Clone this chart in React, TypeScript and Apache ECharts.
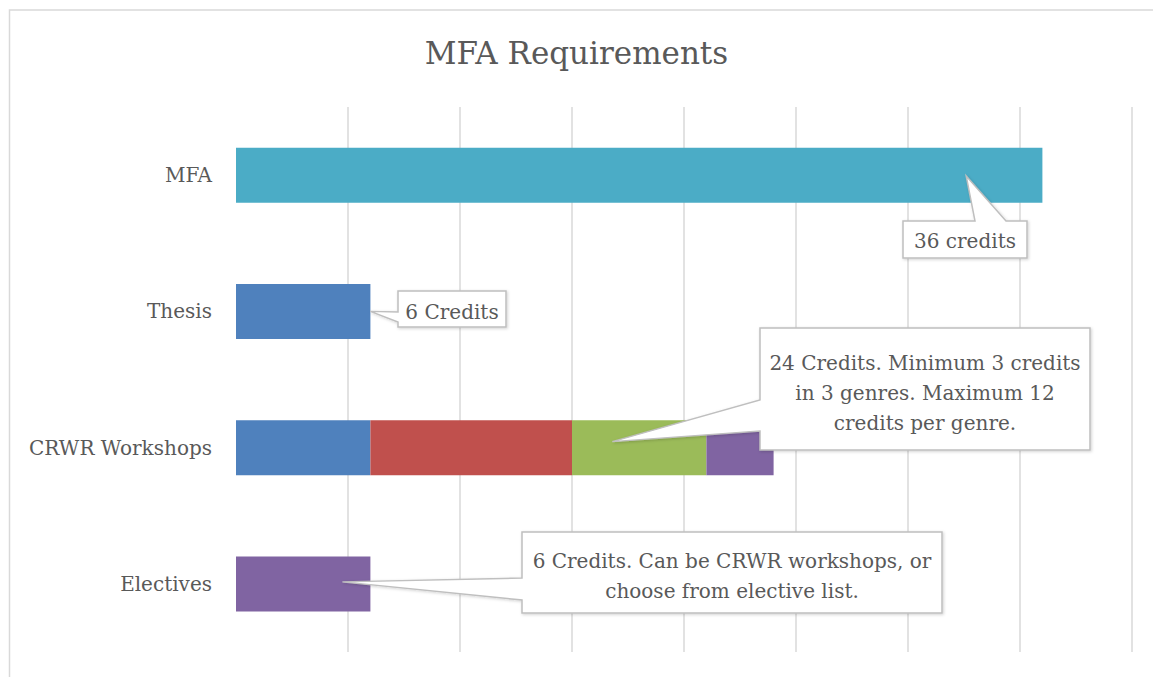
import React, { useEffect, useRef } from "react";
import * as echarts from "echarts";

const categories = ["MFA", "Thesis", "CRWR Workshops", "Electives"];
const mfaCredits = [36, 0, 0, 0];
const blueCredits = [0, 6, 6, 0];
const redCredits = [0, 0, 9, 0];
const greenCredits = [0, 0, 6, 0];
const purpleCredits = [0, 0, 3, 6];

const seriesColors = ["#4BACC6", "#4F81BD", "#C0504D", "#9BBB59", "#8064A2"];
const seriesValues = [mfaCredits, blueCredits, redCredits, greenCredits, purpleCredits];

const axisMin = 0;
const axisMax = 40;
const axisInterval = 5;

const FONT = "'DejaVu Serif', serif";
const TEXT_COLOR = "#595959";

type Callout = {
  lines: string[];
  box: [number, number, number, number];
  tipValue: number;
  tipCat: number;
  tipDy: number;
  side: "top" | "left";
  wedge: [number, number];
  textDy: number;
};

const callouts: Callout[] = [
  { lines: ["36 credits"], box: [903, 221, 124, 37], tipValue: 32.6, tipCat: 0, tipDy: 1, side: "top", wedge: [975, 1006], textDy: 1 },
  { lines: ["6 Credits"], box: [398, 291, 108, 36], tipValue: 6, tipCat: 1, tipDy: 0, side: "left", wedge: [312, 322], textDy: 3 },
  {
    lines: ["24 Credits. Minimum 3 credits", "in 3 genres. Maximum 12", "credits per genre."],
    box: [760, 328, 330, 122], tipValue: 16.8, tipCat: 2, tipDy: -6, side: "left", wedge: [400, 431], textDy: 4,
  },
  {
    lines: ["6 Credits. Can be CRWR workshops, or", "choose from elective list."],
    box: [522, 532, 420, 81], tipValue: 4.75, tipCat: 3, tipDy: -2, side: "left", wedge: [578, 600], textDy: 3,
  },
];

export default function App() {
  const ref = useRef<HTMLDivElement>(null);
  useEffect(() => {
    if (!ref.current) return;
    const chart = echarts.init(ref.current, undefined, { renderer: "svg" });
    chart.setOption({
      animation: false,
      backgroundColor: "#ffffff",
      title: {
        text: "MFA Requirements",
        left: "center",
        top: 32,
        textStyle: { fontFamily: FONT, fontSize: 31, fontWeight: "normal", color: TEXT_COLOR },
      },
      grid: { left: 236, right: 21, top: 107, bottom: 25, containLabel: false },
      xAxis: {
        type: "value",
        min: axisMin,
        max: axisMax,
        interval: axisInterval,
        axisLabel: { show: false },
        axisLine: { show: false },
        axisTick: { show: false },
        splitLine: { show: true, showMinLine: false, lineStyle: { color: "#d9d9d9", width: 1.5 } },
      },
      yAxis: {
        type: "category",
        data: categories,
        inverse: true,
        axisLine: { show: false },
        axisTick: { show: false },
        axisLabel: { margin: 24, fontFamily: FONT, fontSize: 20, color: TEXT_COLOR },
      },
      series: seriesValues.map((vals, i) => ({
        type: "bar",
        stack: "credits",
        barWidth: 55,
        data: vals.map((v) => (v === 0 ? "-" : v)),
        itemStyle: { color: seriesColors[i] },
      })),
    });

    const graphics: any[] = [
      {
        type: "rect",
        shape: { x: 9.5, y: 10, width: 1170, height: 720 },
        style: { fill: "none", stroke: "#d9d9d9", lineWidth: 1.5 },
        silent: true,
      },
    ];
    callouts.forEach((c) => {
      const p = chart.convertToPixel({ gridIndex: 0 }, [c.tipValue, c.tipCat]) as number[];
      const tip = [p[0], p[1] + c.tipDy];
      const [L, T, W, H] = c.box;
      const R = L + W;
      const B = T + H;
      let pts: number[][];
      if (c.side === "top") {
        pts = [[L, T], [c.wedge[0], T], tip, [c.wedge[1], T], [R, T], [R, B], [L, B]];
      } else {
        pts = [[L, T], [R, T], [R, B], [L, B], [L, c.wedge[1]], tip, [L, c.wedge[0]]];
      }
      graphics.push({
        type: "polygon",
        shape: { points: pts },
        style: {
          fill: "#ffffff",
          stroke: "#bfbfbf",
          lineWidth: 1.5,
          shadowBlur: 3,
          shadowColor: "rgba(0,0,0,0.18)",
          shadowOffsetX: 1,
          shadowOffsetY: 1,
        },
        z: 100,
      });
      graphics.push({
        type: "text",
        x: L + W / 2,
        y: T + H / 2 + c.textDy,
        style: {
          text: c.lines.join("\n"),
          font: `20px ${FONT}`,
          fill: TEXT_COLOR,
          align: "center",
          verticalAlign: "middle",
          lineHeight: 30,
        },
        z: 101,
      });
    });
    chart.setOption({ graphic: graphics });
    return () => chart.dispose();
  }, []);
  return (
    <div
      ref={ref}
      style={{ position: "fixed", left: 0, top: 0, width: 1153, height: 677, background: "#fff" }}
    />
  );
}
